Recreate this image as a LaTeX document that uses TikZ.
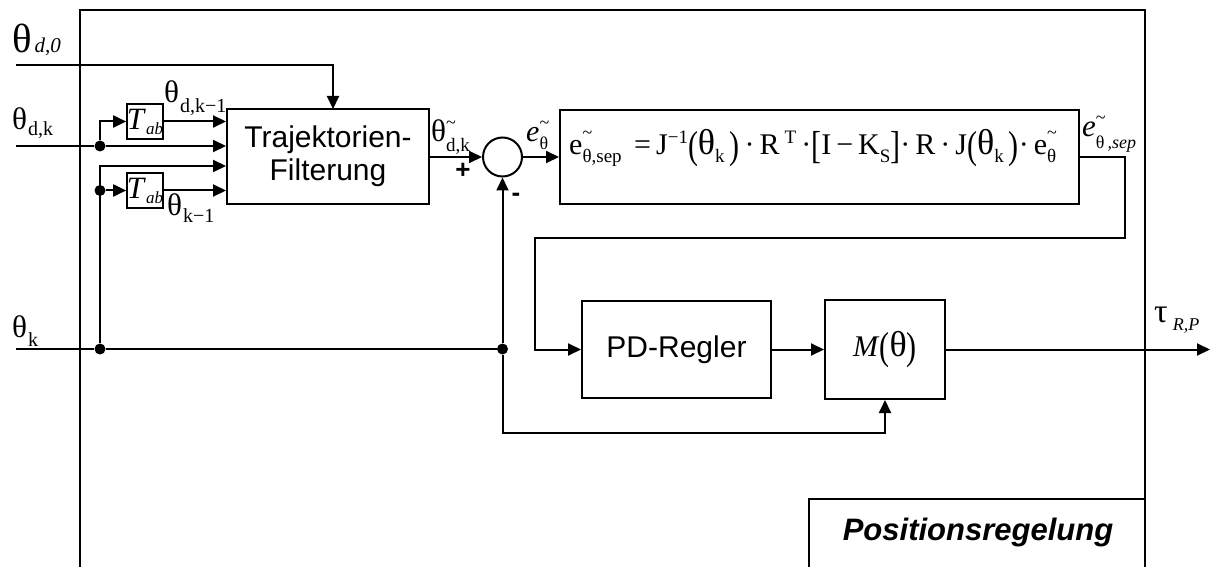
\documentclass[tikz,border=0pt]{standalone}
\usepackage{fontspec}
\setmainfont{Liberation Serif}
\setsansfont{Liberation Sans}
\usetikzlibrary{arrows.meta}

\newcommand\fs[1]{\fontsize{#1}{#1}\selectfont}
% raised superscript and lowered subscript stacked after a symbol
\newcommand\supsub[4]{\rlap{\raisebox{#1}{#2}}\raisebox{#3}{#4}}
% tall round/square brackets
\newcommand\tallp[1]{\raisebox{-0.12em}{\scalebox{1}[1.3]{#1}}}
% enlarged Greek letters
\newcommand\tht{\scalebox{1.2}{θ}}
\newcommand\tauu{\scalebox{1.3}{τ}}
\newcommand\tld[1][18]{\fs{#1}\char"7E}

\begin{document}
\begin{tikzpicture}[x=1pt,y=-1pt,
  wire/.style={line width=2pt},
  arr/.style={wire,-{Triangle[length=13pt,width=12pt]}},
  frame/.style={line width=1.5pt},
  blk/.style={draw,line width=2pt,rectangle,inner sep=0pt,align=center},
  dot/.style={circle,fill,inner sep=0pt,minimum size=11pt},
  lbl/.style={inner sep=0pt,anchor=base west}]

\useasboundingbox (0,0) rectangle (1211,567);

% outer frame, open at the bottom
\draw[frame] (80,567) -- (80,10) -- (1145,10) -- (1145,567);
% title box in the lower right corner
\draw[frame] (809,567) -- (809,499) -- (1145,499);
\node[font=\sffamily\bfseries\itshape\fontsize{31}{31}\selectfont] (title) at (978,532) {Positionsregelung};

% blocks
\node[blk,minimum width=202pt,minimum height=95pt,font=\sffamily\fontsize{30}{33}\selectfont] (traj) at (328,156.5)
      {Trajektorien-\\Filterung};
\node[blk,minimum width=34pt,minimum height=35pt,line width=1.6pt] (tab1) at (145,121.5)
      {\fs{31}\textit{T}\raisebox{-5pt}{\fs{17}\textit{ab}}};
\node[blk,minimum width=34pt,minimum height=35pt,line width=1.6pt] (tab2) at (145,190.5)
      {\fs{31}\textit{T}\raisebox{-5pt}{\fs{17}\textit{ab}}};
\node[draw,circle,line width=2pt,minimum size=39pt,inner sep=0pt] (sum) at (502.5,157) {};
\node[blk,minimum width=519pt,minimum height=94pt] (form) at (819.5,157) {};
\node[blk,minimum width=189pt,minimum height=97pt,font=\sffamily\fontsize{30}{30}\selectfont] (pd) at (676.5,349.5) {PD-Regler};
\node[blk,minimum width=120pt,minimum height=99pt] (mth) at (885,349.5)
      {\fs{30}\textit{M}\tallp{(}\tht\tallp{)}};

% formula inside the separation block
\node[lbl] (eq) at (569,155) {\fs{30}e\supsub{17pt}{\tld}{-8pt}{\fs{19}θ,sep}
  \,=\,J\raisebox{11pt}{\fs{19}−1}\tallp{(}\tht\raisebox{-8pt}{\fs{19}k}\,\tallp{)}\,·\,R\,\raisebox{11pt}{\fs{19}T}\,·\tallp{[}I\,−\,K\raisebox{-8pt}{\fs{19}S}\tallp{]}·\,R\,·\,J\tallp{(}\tht\raisebox{-8pt}{\fs{19}k}\,\tallp{)}·\,e\supsub{17pt}{\tld}{-8pt}{\fs{19}θ}};

% inputs, junctions and coordinates
\coordinate (d0in) at (16,65);
\coordinate (dkin) at (16,146);
\coordinate (kin)  at (16,349);
\coordinate (d0t)  at (333,109);
\coordinate (kc)   at (100,166);
\coordinate (sepc) at (1125,238);
\coordinate (sepl) at (535,238);
\coordinate (fbl)  at (502.5,433);
\coordinate (tauout) at (1210,349.5);
\node[dot] (dkj) at (100,146) {};
\node[dot] (k1j) at (100,190.5) {};
\node[dot] (kj)  at (100,349) {};
\node[dot] (fbj) at (502.5,349) {};

% connectors
\draw[arr] (d0in) -| (d0t);
\draw[wire] (dkin) -- (dkj);
\draw[arr] (dkj) -- (traj.west |- dkj);
\draw[arr] (dkj) |- (tab1.west);
\draw[arr] (tab1.east) -- (traj.west |- tab1.east);
\draw[wire] (kin) -- (kj) -- (fbj);
\draw[arr] (kj) |- (traj.west |- kc);
\draw[arr] (k1j) -- (tab2.west);
\draw[arr] (tab2.east) -- (traj.west |- tab2.east);
\draw[arr] (traj.east |- sum) -- (sum.west);
\draw[arr] (sum.east) -- (form.west);
\draw[arr] (fbj) -- (sum.south);
\draw[arr] (fbj) -- (fbl) -| (mth.south);
\draw[arr] (form.east) -| (sepc) -- (sepl) |- (pd.west);
\draw[arr] (pd.east) -- (mth.west);
\draw[arr] (mth.east) -- (tauout);

% signal labels
\node[lbl] (ld0) at (12,53) {\fs{34}\tht\hspace{3pt}\fs{21}\textit{d,0}};
\node[lbl] (ldk) at (12,130) {\fs{26}\tht\hspace{1pt}\raisebox{-6pt}{\fs{20}d,k}};
\node[lbl] (ldk1) at (164,103) {\fs{26}\tht\hspace{1pt}\raisebox{-10pt}{\fs{20}d,k−1}};
\node[lbl] (lk1) at (167,215) {\fs{26}\tht\hspace{1pt}\raisebox{-7pt}{\fs{20}k−1}};
\node[lbl] (lk) at (12,337) {\fs{26}\tht\hspace{1pt}\raisebox{-9pt}{\fs{20}k}};
\node[lbl] (ltau) at (1154,322) {\fs{26}\tauu\hspace{5pt}\raisebox{-8pt}{\fs{18}\textit{R,P}}};
\node[lbl] (ltdk) at (431,142) {\fs{26}\tht\supsub{13pt}{\tld}{-10pt}{\fs{19}d,k}};
\node[lbl] (le) at (526,142) {\fs{30}\textit{e}\supsub{13pt}{\tld}{-8pt}{\fs{18}θ}};
\node[lbl] (lsep) at (1082,137) {\fs{31}\textit{e}\supsub{13pt}{\tld}{-12pt}{\fs{18}θ\,\textit{,sep}}};
\node[font=\sffamily\bfseries\fontsize{26}{26}\selectfont] (plus) at (463,171) {+};
\node[font=\sffamily\bfseries\fontsize{26}{26}\selectfont] (minus) at (516,197) {-};
\end{tikzpicture}
\end{document}
